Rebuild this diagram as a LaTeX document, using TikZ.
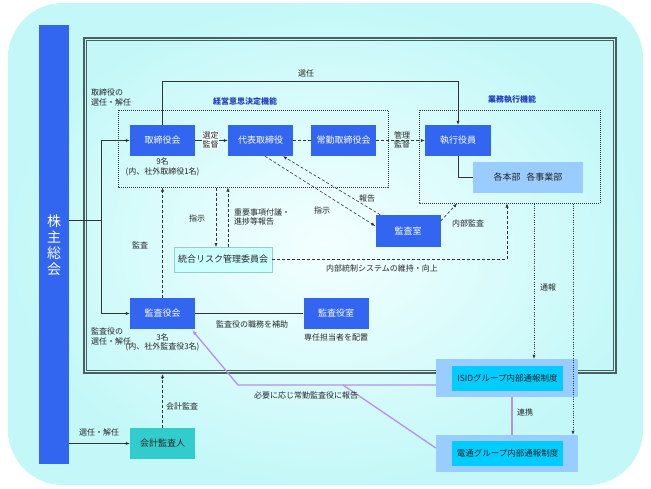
\documentclass[tikz,border=0pt]{standalone}
\usepackage{fontspec}
\setmainfont{Noto Sans CJK JP}
\usetikzlibrary{arrows.meta,calc}
\definecolor{nblue}{HTML}{3366F0}
\definecolor{lblue}{HTML}{99CCFF}
\definecolor{cyanin}{HTML}{00CCFF}
\definecolor{teal2}{HTML}{33CCCC}
\definecolor{riskf}{HTML}{CCFFFF}
\definecolor{riskd}{HTML}{99CCCC}
\definecolor{frmc}{HTML}{4A6060}
\definecolor{bgin}{HTML}{F4FFFF}
\definecolor{bgout}{HTML}{C4F8F8}
\definecolor{pur}{HTML}{B890E8}
\definecolor{lnc}{HTML}{333333}
\definecolor{hblue}{HTML}{1F3FBF}
\tikzset{
  box/.style={fill=nblue, text=white, minimum width=65pt, minimum height=31pt, inner sep=0pt, font=\fontsize{9}{10}\selectfont},
  lbl/.style={font=\fontsize{8}{9.5}\selectfont, text=black!85, inner sep=0pt, align=center},
  head/.style={font=\fontsize{8}{9.5}\selectfont\bfseries, text=hblue, inner sep=0pt},
  arr/.style={-{Latex[length=4pt,width=3.2pt]}},
  dsh/.style={dash pattern=on 3pt off 2pt},
  dotl/.style={dash pattern=on 1pt off 1.3pt},
  conn/.style={draw=lnc, line width=0.6pt},
  dotbox/.style={draw=black!80, line width=0.8pt, dash pattern=on 1pt off 1pt},
  purl/.style={draw=pur, line width=1.3pt}
}
\begin{document}
\begin{tikzpicture}[x=1pt,y=-1pt]
\useasboundingbox (0,0) rectangle (651,488);
\fill[white] (0,0) rectangle (651,488);
\shade[inner color=bgin, outer color=bgout, rounded corners=55pt] (8,3) rectangle (643,485);

% outer double frame
\draw[draw=frmc, line width=1.4pt] (84,38) rectangle (616,373);
\draw[draw=frmc, line width=0.7pt] (86.6,40.6) rectangle (613.4,370.4);

% dotted function boxes
\draw[dotbox] (118,110) rectangle (388,187);
\draw[dotbox] (419,110) rectangle (600,203);
\node[head] (hkb) at (245,101) {経営意思決定機能};
\node[head] (hgb) at (512,100) {業務執行機能};

% shareholders bar
\node[fill=nblue, minimum width=30pt, minimum height=439pt, inner sep=0pt] (bar) at (54,244.5) {};
\node[text=white, font=\fontsize{14}{16}\selectfont, align=center, inner sep=0pt] (bart) at (54,245) {株\\主\\総\\会};

% main nodes
\node[box] (tk) at (162.5,140.5) {取締役会};
\node[box] (dh) at (260.5,140.5) {代表取締役};
\node[box] (jk) at (343.5,140.5) {常勤取締役会};
\node[box, minimum width=66pt] (sy) at (458,140.5) {執行役員};
\node[box, fill=lblue, text=black!85, minimum width=110pt] (kh) at (528,177.5) {各本部\hspace{6pt}各事業部};
\node[box, minimum height=32pt] (ks) at (408,231) {監査室};
\node[box, fill=riskf, draw=riskd, line width=0.8pt, text=black!85, minimum width=98pt, minimum height=25pt] (rk) at (223,259.5) {統合リスク管理委員会};
\node[box] (kk) at (162.5,313.5) {監査役会};
\node[box] (kys) at (336,313.5) {監査役室};
\node[box, fill=teal2, text=black!85] (kj) at (162.5,443.5) {会計監査人};

\node[fill=lblue, minimum width=142pt, minimum height=38pt, inner sep=0pt] (io) at (507,378) {};
\node[box, fill=cyanin, text=black!85, minimum width=111pt, minimum height=25pt, font=\fontsize{8.5}{10}\selectfont] (ii) at (507.5,378.5) {ISIDグループ内部通報制度};
\node[fill=lblue, minimum width=142pt, minimum height=37pt, inner sep=0pt] (do) at (507,453.5) {};
\node[box, fill=cyanin, text=black!85, minimum width=111pt, minimum height=25pt, font=\fontsize{8.5}{10}\selectfont] (di) at (507.5,453.5) {電通グループ内部通報制度};

% shareholders -> boards
\coordinate (split) at (101,220);
\draw[conn] (bar.east |- split) -- (split);
\draw[conn, arr] (split) |- (tk.west);
\draw[conn, arr] (split) |- (kk.west);
\node[lbl, anchor=west, align=left] (l1) at (91,97.5) {取締役の\\選任・解任};
\node[lbl, anchor=west, align=left] (l2) at (91,336.5) {監査役の\\選任・解任};

% appointment of executive officers
\coordinate (top) at (300,81);
\draw[conn, arr] (tk.north) -- (tk.north |- top) -| (sy.north);
\node[lbl] (l3) at (306,73) {選任};

% board chain
\draw[conn, arr] (tk.east) -- (dh.west);
\node[lbl, fill=bgin, inner sep=0.5pt] (l4) at (210.5,140) {選定\\監督};
\draw[conn, dsh] (dh.east) -- (jk.west);
\draw[conn, dsh, arr] (jk.east) -- (sy.west);
\node[lbl] (l5) at (402,140) {管理\\監督};
\draw[conn] (sy.south) |- (kh.west);
\node[lbl] (l6) at (162.5,167) {9名\\(内、社外取締役1名)};

% audit office
\draw[conn, dsh, arr] ([xshift=5pt]ks.north west) -- ([xshift=22.5pt]dh.south);
\draw[conn, dsh, arr] ([xshift=4.5pt]dh.south) -- ([yshift=5pt]ks.west);
\node[lbl] (l7) at (367,198) {報告};
\node[lbl] (l8) at (322,210) {指示};
\draw[conn, dsh, arr] ([yshift=10pt]ks.east) -- (457,203.5);
\node[lbl] (l9) at (468,223) {内部監査};

% risk committee
\draw[conn, dsh, arr] (216,187.5) -- (216,247);
\draw[conn, dsh, arr] (228,247) -- (228,187.5);
\node[lbl] (l10) at (197,218) {指示};
\node[lbl, anchor=west, align=left] (l11) at (234,217) {重要事項付議・\\進捗等報告};
\coordinate (rkc) at (507,259.5);
\draw[conn, dsh, arr] (rk.east) -- (rkc) -- (507,203.5);
\node[lbl] (l12) at (382,268) {内部統制システムの維持・向上};

% audit board
\draw[conn, dsh, arr] (kk.north) -- (162.5,187.5);
\node[lbl] (l13) at (140,245) {監査};
\draw[conn] (kk.east) -- (kys.west);
\node[lbl] (l14) at (252,324) {監査役の職務を補助};
\node[lbl] (l15) at (336,337) {専任担当者を配置};
\node[lbl] (l16) at (162.5,342.5) {3名\\(内、社外監査役3名)};

% whistleblowing
\draw[conn, dotl, arr] (534,203.5) -- (io.north -| 534,0);
\node[lbl] (l17) at (548,287) {通報};
\draw[conn, dotl, arr] (573,203.5) -- (do.north -| 573,0);
\draw[purl] (io.south -| 512,0) -- (do.north -| 512,0);
\node[lbl] (l18) at (525,412) {連携};

\coordinate (pj) at (238,385);
\coordinate (pk) at (343,385);
\draw[purl, -{Latex[length=5pt,width=4pt]}] ([yshift=-7pt]io.west) -- (pj) -- ([xshift=-3pt,yshift=-1pt]kk.south east);
\draw[purl] (pk) -- ([yshift=5.5pt]do.west);
\node[lbl] (l19) at (306,395) {必要に応じ常勤監査役に報告};

% accounting auditor
\draw[conn, dsh, arr] (kj.north) -- (162.5,374);
\node[lbl] (l20) at (182,406) {会計監査};
\draw[conn, arr] (bar.east |- kj.west) -- (kj.west);
\node[lbl] (l21) at (99,432) {選任・解任};
\end{tikzpicture}
\end{document}
